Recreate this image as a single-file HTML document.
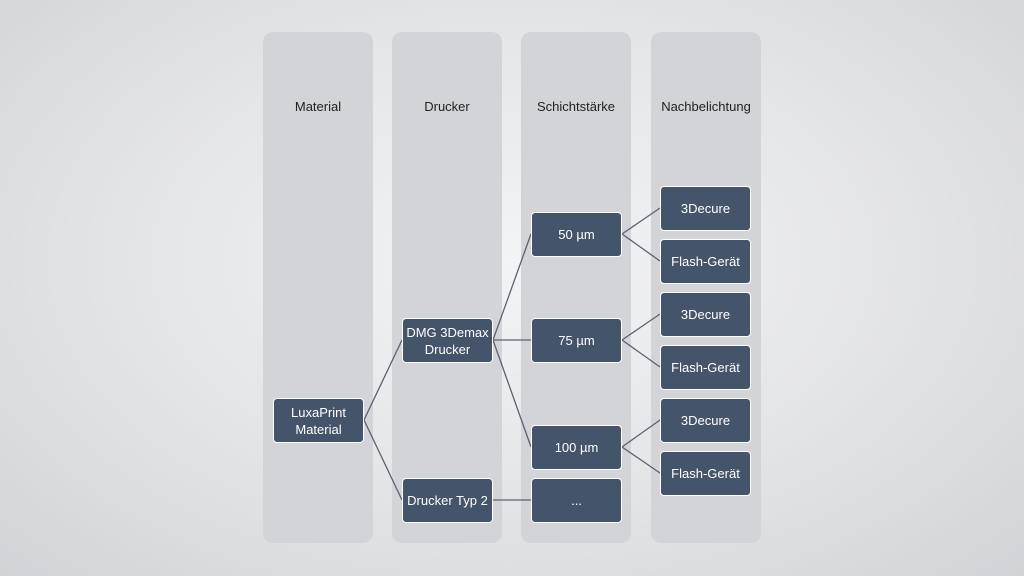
<!DOCTYPE html>
<html><head><style>
html,body{margin:0;padding:0}
body{width:1024px;height:576px;overflow:hidden;background:radial-gradient(ellipse at 50% 45%,#f3f4f5 0%,#e3e4e6 55%,#d2d3d6 100%);font-family:"Liberation Sans",sans-serif;position:relative}
.col{position:absolute;top:32px;width:110px;height:511px;background:#d3d4d7;border-radius:10px}
.h{position:absolute;top:99px;width:110px;text-align:center;font-size:13px;color:#222}
.b{position:absolute;width:91px;height:45px;background:#44546a;border:1px solid #fff;border-radius:4px;box-sizing:border-box;color:#fff;font-size:13px;display:flex;align-items:center;justify-content:center;text-align:center;line-height:17px}
svg{position:absolute;left:0;top:0}
</style></head><body>
<div class="col" style="left:263px"></div>
<div class="col" style="left:392px"></div>
<div class="col" style="left:521px"></div>
<div class="col" style="left:651px"></div>
<div class="h" style="left:263px">Material</div>
<div class="h" style="left:392px">Drucker</div>
<div class="h" style="left:521px">Schichtstärke</div>
<div class="h" style="left:651px">Nachbelichtung</div>
<svg width="1024" height="576"><g stroke="#5a6170" stroke-width="1.3" fill="none">
<path d="M364 420L402 340M364 420L402 500M493 340L531 234M493 340L531 340M493 340L531 447M493 500L531 500M622 234L660 208M622 234L660 261M622 340L660 314M622 340L660 367M622 447L660 420M622 447L660 473"/></g></svg>
<div class="b" style="left:273px;top:398px">LuxaPrint<br>Material</div>
<div class="b" style="left:402px;top:318px">DMG 3Demax<br>Drucker</div>
<div class="b" style="left:402px;top:478px">Drucker Typ 2</div>
<div class="b" style="left:531px;top:212px">50 µm</div>
<div class="b" style="left:531px;top:318px">75 µm</div>
<div class="b" style="left:531px;top:425px">100 µm</div>
<div class="b" style="left:531px;top:478px">...</div>
<div class="b" style="left:660px;top:186px">3Decure</div>
<div class="b" style="left:660px;top:239px">Flash-Gerät</div>
<div class="b" style="left:660px;top:292px">3Decure</div>
<div class="b" style="left:660px;top:345px">Flash-Gerät</div>
<div class="b" style="left:660px;top:398px">3Decure</div>
<div class="b" style="left:660px;top:451px">Flash-Gerät</div>
</body></html>
